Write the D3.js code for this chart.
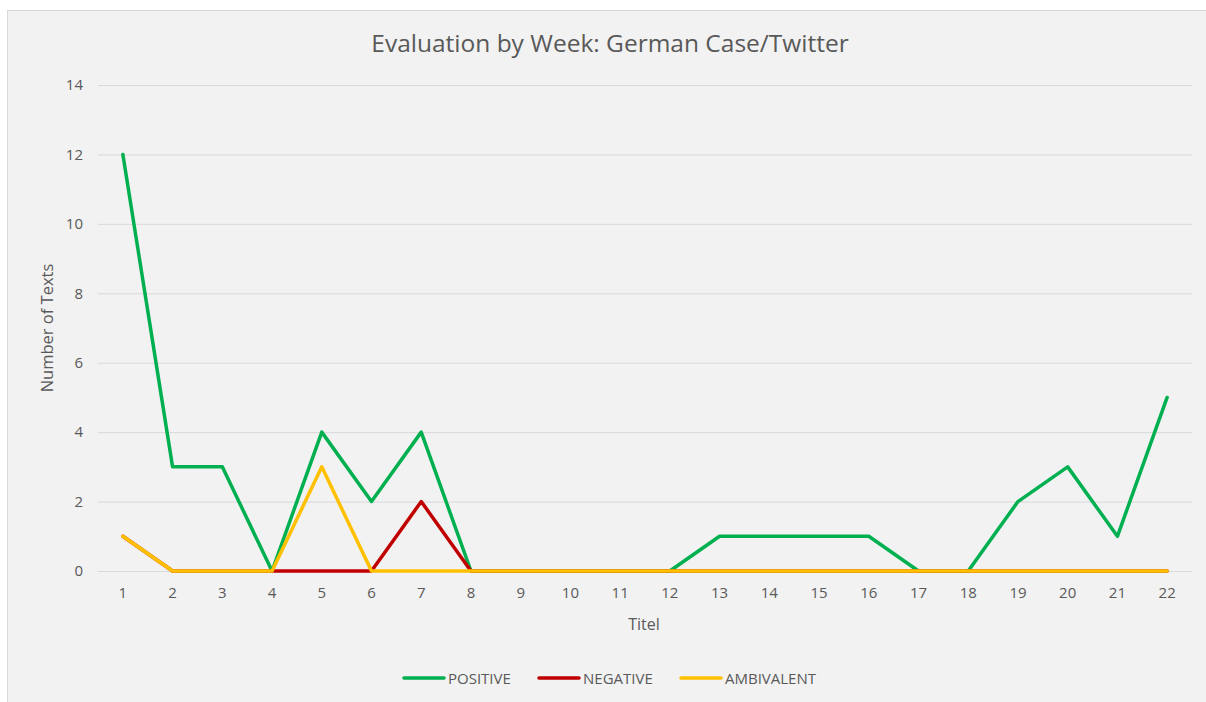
<!DOCTYPE html>
<html lang="en">
<head>
    <meta charset="UTF-8">
    <title>Evaluation by Week: German Case/Twitter</title>
    <script src="https://d3js.org/d3.v7.min.js"></script>
    <style>
        body { margin: 0; background: #fff; }
        text { font-family: "Open Sans", Lato, sans-serif; fill: #595959; }
    </style>
</head>
<body>
    <svg id="chart"></svg>

    <script>
        // Chart data
        const weeks = d3.range(1, 23).map(String);
        const positive = [12, 3, 3, 0, 4, 2, 4, 0, 0, 0, 0, 0, 1, 1, 1, 1, 0, 0, 2, 3, 1, 5];
        const negative = [1, 0, 0, 0, 0, 0, 2, 0, 0, 0, 0, 0, 0, 0, 0, 0, 0, 0, 0, 0, 0, 0];
        const ambivalent = [1, 0, 0, 0, 3, 0, 0, 0, 0, 0, 0, 0, 0, 0, 0, 0, 0, 0, 0, 0, 0, 0];
        const yTicks = [0, 2, 4, 6, 8, 10, 12, 14];

        const seriesList = [
            { name: "POSITIVE", values: positive, color: "#00b050" },
            { name: "NEGATIVE", values: negative, color: "#c00000" },
            { name: "AMBIVALENT", values: ambivalent, color: "#ffc000" }
        ];

        const W = 1206, H = 702;
        const plot = { left: 98, right: 1192, top: 85, bottom: 571 };

        const svg = d3.select("#chart")
            .attr("width", W)
            .attr("height", H);

        // frame
        svg.append("rect")
            .attr("x", 7.5).attr("y", 10.5)
            .attr("width", 1205).attr("height", 700)
            .attr("fill", "#f2f2f2")
            .attr("stroke", "#d9d9d9");

        const x = d3.scaleBand()
            .domain(weeks)
            .range([plot.left, plot.right]);

        const y = d3.scaleLinear()
            .domain([0, 14])
            .range([plot.bottom, plot.top]);

        // gridlines + y labels
        const yAxis = svg.append("g")
            .attr("transform", `translate(${plot.left},0)`)
            .call(d3.axisLeft(y).tickValues(yTicks).tickSize(-(plot.right - plot.left)).tickPadding(15));
        yAxis.select(".domain").remove();
        yAxis.selectAll(".tick line").attr("stroke", "#d9d9d9");
        yAxis.selectAll(".tick text")
            .style("font-size", "15px")
            .style("font-family", "'Open Sans', sans-serif")
            .attr("fill", "#595959");

        // x labels
        const xAxis = svg.append("g")
            .attr("transform", `translate(0,${plot.bottom})`)
            .call(d3.axisBottom(x).tickSize(0).tickPadding(16));
        xAxis.select(".domain").remove();
        xAxis.selectAll(".tick text")
            .style("font-size", "15px")
            .style("font-family", "'Open Sans', sans-serif")
            .attr("fill", "#595959");

        // lines
        const line = d3.line()
            .x((d, i) => x(weeks[i]) + x.bandwidth() / 2)
            .y(d => y(d));

        seriesList.forEach(s => {
            svg.append("path")
                .datum(s.values)
                .attr("d", line)
                .attr("fill", "none")
                .attr("stroke", s.color)
                .attr("stroke-width", 3.5)
                .attr("stroke-linejoin", "round")
                .attr("stroke-linecap", "round");
        });

        // title
        svg.append("text")
            .attr("x", 610).attr("y", 52)
            .attr("text-anchor", "middle")
            .style("font-size", "24.5px")
            .text("Evaluation by Week: German Case/Twitter");

        // axis titles
        svg.append("text")
            .attr("x", 644).attr("y", 630)
            .attr("text-anchor", "middle")
            .style("font-size", "16px")
            .text("Titel");

        svg.append("text")
            .attr("transform", `translate(53,${(plot.top + plot.bottom) / 2}) rotate(-90)`)
            .attr("text-anchor", "middle")
            .style("font-size", "16.5px")
            .text("Number of Texts");

        // legend
        const legendX = [404, 539, 681];
        const legend = svg.append("g");
        seriesList.forEach((s, i) => {
            const g = legend.append("g").attr("transform", `translate(${legendX[i]},678)`);
            g.append("line")
                .attr("x1", 0).attr("x2", 40)
                .attr("stroke", s.color)
                .attr("stroke-width", 3.5)
                .attr("stroke-linecap", "round");
            g.append("text")
                .attr("x", 44).attr("y", 5.5)
                .style("font-size", "15px")
                .text(s.name);
        });
    </script>
</body>
</html>
